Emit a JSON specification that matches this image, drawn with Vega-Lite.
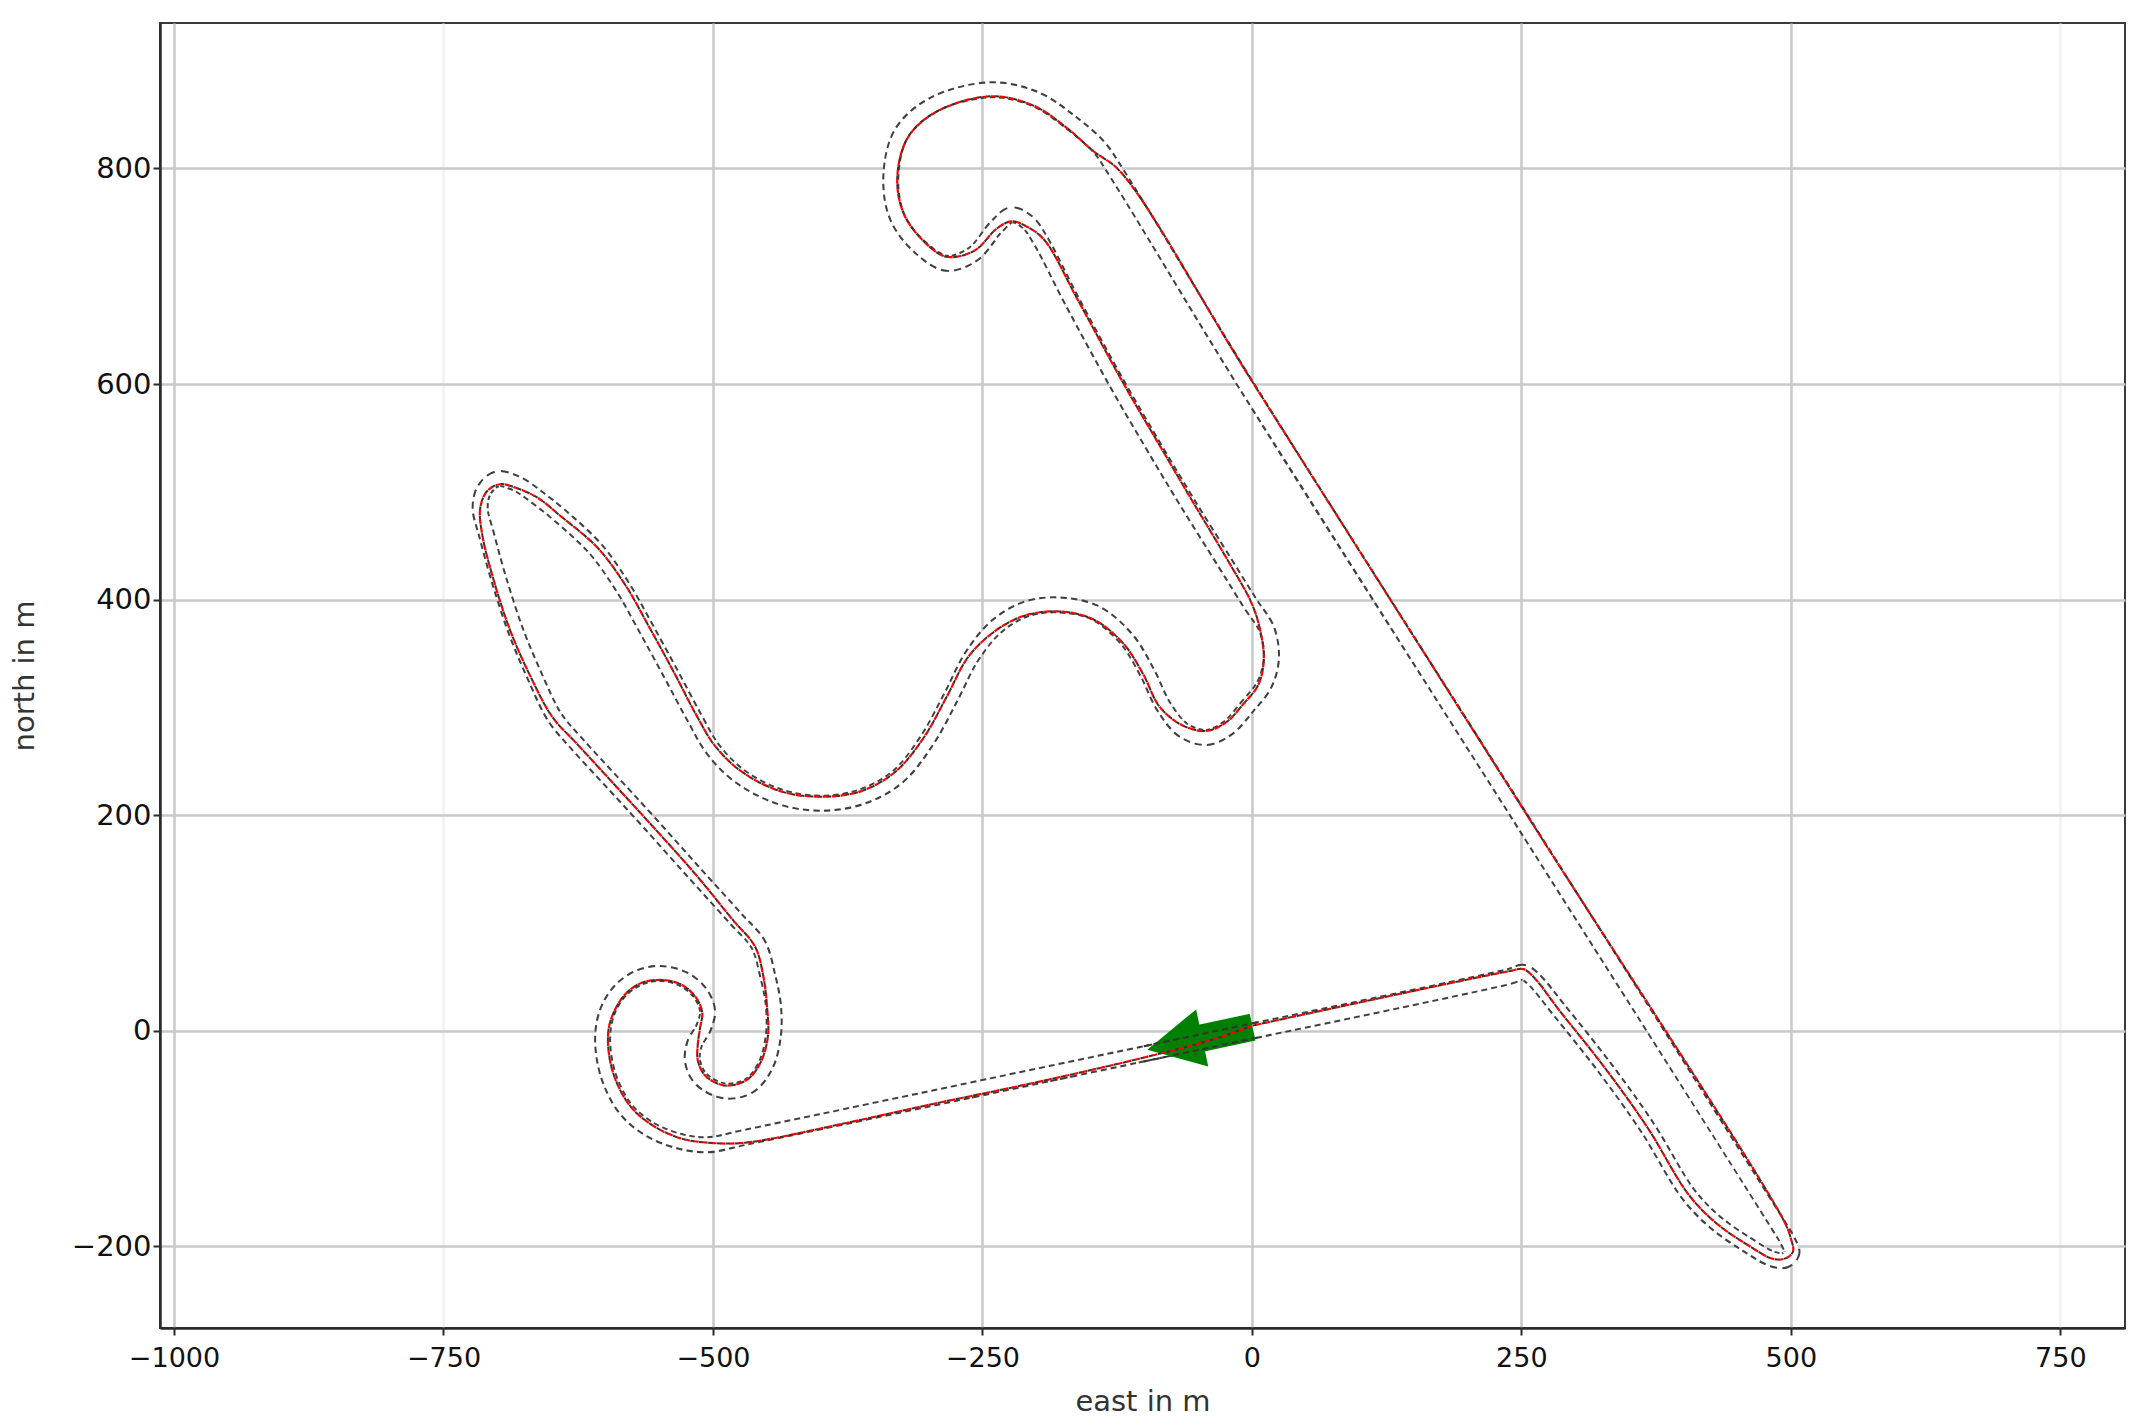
{
  "$schema": "https://vega.github.io/schema/vega-lite/v6.json",
  "width": 1965,
  "height": 1305,
  "autosize": {"type": "none"},
  "padding": {"left": 160, "top": 23, "right": 18, "bottom": 100},
  "background": "white",
  "config": {
    "view": {"stroke": "#3a3a3a", "strokeWidth": 2},
    "axis": {
      "labelFont": "DejaVu Sans",
      "titleFont": "DejaVu Sans",
      "labelFontSize": 27,
      "titleFontSize": 29,
      "titleFontWeight": "normal",
      "labelColor": "#111111",
      "titleColor": "#333333",
      "domainColor": "#2a2a2a",
      "domainWidth": 2.5,
      "tickColor": "#2a2a2a",
      "tickWidth": 2,
      "tickSize": 7,
      "gridColor": "#c8c8c8",
      "gridWidth": 2.5
    }
  },
  "datasets": {
    "center": [
      {"i":1,"x":0,"y":-0.5},{"i":2,"x":-100,"y":-21.5},{"i":3,"x":-200,"y":-42.5},{"i":4,"x":-300,"y":-63.5},{"i":5,"x":-400,"y":-84.5},{"i":6,"x":-470,"y":-99},{"i":7,"x":-505,"y":-106},{"i":8,"x":-530,"y":-103},{"i":9,"x":-558,"y":-92},{"i":10,"x":-580,"y":-74},
      {"i":11,"x":-594,"y":-50},{"i":12,"x":-601,"y":-25},{"i":13,"x":-602,"y":0},{"i":14,"x":-597,"y":20},{"i":15,"x":-586,"y":37},{"i":16,"x":-569,"y":49},{"i":17,"x":-549,"y":53},{"i":18,"x":-528,"y":48},{"i":19,"x":-512,"y":35},{"i":20,"x":-505,"y":18},
      {"i":21,"x":-509,"y":2},{"i":22,"x":-517,"y":-12},{"i":23,"x":-519,"y":-28},{"i":24,"x":-511,"y":-45},{"i":25,"x":-489,"y":-56},{"i":26,"x":-466,"y":-51},{"i":27,"x":-451,"y":-32},{"i":28,"x":-444,"y":-5},{"i":29,"x":-444,"y":24},{"i":30,"x":-449,"y":50},
      {"i":31,"x":-458,"y":80},{"i":32,"x":-479,"y":104},{"i":33,"x":-517,"y":146},{"i":34,"x":-560,"y":194},{"i":35,"x":-593,"y":230},{"i":36,"x":-627,"y":267},{"i":37,"x":-647,"y":291},{"i":38,"x":-665,"y":328},{"i":39,"x":-683,"y":371},{"i":40,"x":-699,"y":420},
      {"i":41,"x":-710,"y":460},{"i":42,"x":-716,"y":485},{"i":43,"x":-712,"y":502},{"i":44,"x":-700,"y":512},{"i":45,"x":-681,"y":507},{"i":46,"x":-662,"y":494},{"i":47,"x":-642,"y":478},{"i":48,"x":-609,"y":447},{"i":49,"x":-584,"y":412},{"i":50,"x":-563,"y":375},
      {"i":51,"x":-539,"y":331},{"i":52,"x":-517,"y":290},{"i":53,"x":-500,"y":261},{"i":54,"x":-475,"y":236},{"i":55,"x":-438,"y":217},{"i":56,"x":-400,"y":211},{"i":57,"x":-362,"y":217},{"i":58,"x":-328,"y":236},{"i":59,"x":-301,"y":270},{"i":60,"x":-279,"y":310},
      {"i":61,"x":-260,"y":347},{"i":62,"x":-237,"y":375},{"i":63,"x":-210,"y":391},{"i":64,"x":-180,"y":395},{"i":65,"x":-146,"y":388},{"i":66,"x":-116,"y":363},{"i":67,"x":-97,"y":332},{"i":68,"x":-82,"y":301},{"i":69,"x":-64,"y":279},{"i":70,"x":-42,"y":272},
      {"i":71,"x":-22,"y":281},{"i":72,"x":-4,"y":301},{"i":73,"x":11,"y":320},{"i":74,"x":18,"y":344},{"i":75,"x":14,"y":372},{"i":76,"x":-2,"y":397},{"i":77,"x":-25,"y":434},{"i":78,"x":-60,"y":490},{"i":79,"x":-90,"y":540},{"i":80,"x":-125,"y":600},
      {"i":81,"x":-167,"y":677},{"i":82,"x":-196,"y":733},{"i":83,"x":-208,"y":750},{"i":84,"x":-223,"y":757},{"i":85,"x":-237,"y":746},{"i":86,"x":-258,"y":721},{"i":87,"x":-283,"y":712},{"i":88,"x":-308,"y":727},{"i":89,"x":-329,"y":755},{"i":90,"x":-335,"y":792},
      {"i":91,"x":-325,"y":833},{"i":92,"x":-296,"y":859},{"i":93,"x":-242,"y":873},{"i":94,"x":-200,"y":864},{"i":95,"x":-167,"y":842},{"i":96,"x":-142,"y":820},{"i":97,"x":-125,"y":795},{"i":98,"x":-6,"y":600},{"i":99,"x":250,"y":196},{"i":100,"x":488,"y":-180},
      {"i":101,"x":497,"y":-195},{"i":102,"x":501,"y":-206},{"i":103,"x":495,"y":-213},{"i":104,"x":483,"y":-212},{"i":105,"x":460,"y":-199},{"i":106,"x":430,"y":-178},{"i":107,"x":405,"y":-152},{"i":108,"x":367,"y":-90},{"i":109,"x":327,"y":-34},{"i":110,"x":285,"y":19},
      {"i":111,"x":262,"y":47},{"i":112,"x":252,"y":54},{"i":113,"x":238,"y":50},{"i":114,"x":0,"y":-0.5}
    ],
    "race": [
      {"i":1,"x":0,"y":4.5},{"i":2,"x":-35,"y":-7.8},{"i":3,"x":-100,"y":-25},{"i":4,"x":-200,"y":-48},{"i":5,"x":-300,"y":-69},{"i":6,"x":-373,"y":-85},{"i":7,"x":-470,"y":-104},{"i":8,"x":-505,"y":-104},{"i":9,"x":-530,"y":-100},{"i":10,"x":-556,"y":-88},
      {"i":11,"x":-576,"y":-71},{"i":12,"x":-589,"y":-49},{"i":13,"x":-596,"y":-25},{"i":14,"x":-597,"y":0},{"i":15,"x":-592,"y":17},{"i":16,"x":-582,"y":33},{"i":17,"x":-567,"y":44},{"i":18,"x":-549,"y":47},{"i":19,"x":-530,"y":43},{"i":20,"x":-516,"y":31},
      {"i":21,"x":-510,"y":17},{"i":22,"x":-512,"y":2},{"i":23,"x":-514,"y":-12},{"i":24,"x":-514,"y":-28},{"i":25,"x":-507,"y":-42},{"i":26,"x":-489,"y":-51},{"i":27,"x":-469,"y":-46},{"i":28,"x":-456,"y":-30},{"i":29,"x":-449,"y":-5},{"i":30,"x":-450,"y":24},
      {"i":31,"x":-453,"y":49},{"i":32,"x":-461,"y":78},{"i":33,"x":-481,"y":102},{"i":34,"x":-517,"y":146},{"i":35,"x":-560,"y":194},{"i":36,"x":-593,"y":230},{"i":37,"x":-627,"y":267},{"i":38,"x":-649,"y":291},{"i":39,"x":-669,"y":328},{"i":40,"x":-688,"y":371},
      {"i":41,"x":-704,"y":420},{"i":42,"x":-714,"y":460},{"i":43,"x":-716,"y":484},{"i":44,"x":-710,"y":500},{"i":45,"x":-698,"y":507},{"i":46,"x":-681,"y":503},{"i":47,"x":-662,"y":494},{"i":48,"x":-642,"y":478},{"i":49,"x":-607,"y":448},{"i":50,"x":-581,"y":413},
      {"i":51,"x":-560,"y":376},{"i":52,"x":-536,"y":332},{"i":53,"x":-515,"y":292},{"i":54,"x":-498,"y":264},{"i":55,"x":-473,"y":240},{"i":56,"x":-437,"y":222},{"i":57,"x":-400,"y":217},{"i":58,"x":-363,"y":222},{"i":59,"x":-331,"y":240},{"i":60,"x":-305,"y":271},
      {"i":61,"x":-283,"y":310},{"i":62,"x":-263,"y":347},{"i":63,"x":-238,"y":371},{"i":64,"x":-211,"y":385},{"i":65,"x":-180,"y":389},{"i":66,"x":-148,"y":382},{"i":67,"x":-120,"y":360},{"i":68,"x":-101,"y":331},{"i":69,"x":-86,"y":301},{"i":70,"x":-66,"y":284},
      {"i":71,"x":-43,"y":278},{"i":72,"x":-24,"y":286},{"i":73,"x":-8,"y":303},{"i":74,"x":6,"y":321},{"i":75,"x":11,"y":344},{"i":76,"x":8,"y":370},{"i":77,"x":0,"y":396},{"i":78,"x":-21,"y":434},{"i":79,"x":-55,"y":491},{"i":80,"x":-85,"y":542},
      {"i":81,"x":-120,"y":602},{"i":82,"x":-162,"y":679},{"i":83,"x":-192,"y":733},{"i":84,"x":-207,"y":745},{"i":85,"x":-223,"y":751},{"i":86,"x":-237,"y":744},{"i":87,"x":-257,"y":724},{"i":88,"x":-283,"y":718},{"i":89,"x":-304,"y":732},{"i":90,"x":-323,"y":758},
      {"i":91,"x":-329,"y":792},{"i":92,"x":-319,"y":829},{"i":93,"x":-292,"y":853},{"i":94,"x":-242,"y":867},{"i":95,"x":-202,"y":858},{"i":96,"x":-171,"y":837},{"i":97,"x":-147,"y":816},{"i":98,"x":-122,"y":797},{"i":99,"x":-0.5,"y":603.5},{"i":100,"x":255.5,"y":199.5},
      {"i":101,"x":493.5,"y":-176.5},{"i":102,"x":500,"y":-193},{"i":103,"x":502,"y":-205},{"i":104,"x":496,"y":-211},{"i":105,"x":484,"y":-212},{"i":106,"x":460,"y":-199},{"i":107,"x":430,"y":-178},{"i":108,"x":405,"y":-152},{"i":109,"x":367,"y":-90},{"i":110,"x":327,"y":-34},
      {"i":111,"x":285,"y":19},{"i":112,"x":262,"y":49},{"i":113,"x":252,"y":57},{"i":114,"x":238,"y":55},{"i":115,"x":0,"y":4.5}
    ],
    "arrow": [
      {"i":1,"x":-2.5,"y":14.7},{"i":2,"x":-49.3,"y":4.7},{"i":3,"x":-52.2,"y":18.4},{"i":4,"x":-95.6,"y":-17.4},{"i":5,"x":-41.4,"y":-32.4},{"i":6,"x":-44.3,"y":-18.7},{"i":7,"x":2.5,"y":-8.7},{"i":8,"x":-2.5,"y":14.7}
    ],
    "edges": [
      {"s":"u","i":1,"x":5,"y":7.66},{"s":"u","i":2,"x":-105,"y":-15.44},
      {"s":"l","i":1,"x":5,"y":-6.56},{"s":"l","i":2,"x":-105,"y":-29.66}
    ]
  },
  "encoding": {
    "x": {
      "field": "x", "type": "quantitative",
      "scale": {"domain": [-1013, 810], "nice": false, "zero": false},
      "axis": {
        "title": "east in m",
        "values": [-1000, -750, -500, -250, 0, 250, 500, 750],
        "format": "d",
        "labelPadding": 10,
        "titlePadding": 16,
        "gridColor": {"condition": {"test": "abs(datum.value) == 750", "value": "#f1f1f1"}, "value": "#c8c8c8"}
      }
    },
    "y": {
      "field": "y", "type": "quantitative",
      "scale": {"domain": [-276, 935], "nice": false, "zero": false},
      "axis": {
        "title": "north in m",
        "values": [-200, 0, 200, 400, 600, 800],
        "format": "d",
        "labelFontSize": 29,
        "labelPadding": 2,
        "titlePadding": 32
      }
    },
    "order": {"field": "i", "type": "quantitative"}
  },
  "layer": [
    {
      "data": {"name": "center"},
      "mark": {"type": "line", "stroke": "#404040", "strokeWidth": 17, "strokeDash": [6, 4], "strokeCap": "butt", "strokeJoin": "round", "interpolate": "catmull-rom"}
    },
    {
      "data": {"name": "center"},
      "mark": {"type": "line", "stroke": "white", "strokeWidth": 13, "strokeCap": "round", "strokeJoin": "round", "interpolate": "catmull-rom"}
    },
    {
      "data": {"name": "arrow"},
      "mark": {"type": "line", "fill": "#008000", "stroke": "#008000", "strokeWidth": 1.5, "interpolate": "linear"}
    },
    {
      "data": {"name": "edges"},
      "mark": {"type": "line", "stroke": "#333333", "strokeWidth": 2, "strokeDash": [6, 4]},
      "encoding": {"detail": {"field": "s", "type": "nominal"}}
    },
    {
      "data": {"name": "race"},
      "mark": {"type": "line", "stroke": "#333333", "strokeWidth": 2, "strokeDash": [4, 5], "strokeDashOffset": 4.5, "interpolate": "catmull-rom"}
    },
    {
      "data": {"name": "race"},
      "mark": {"type": "line", "stroke": "#ff0000", "strokeWidth": 2.2, "strokeDash": [5, 4], "interpolate": "catmull-rom"}
    }
  ]
}
